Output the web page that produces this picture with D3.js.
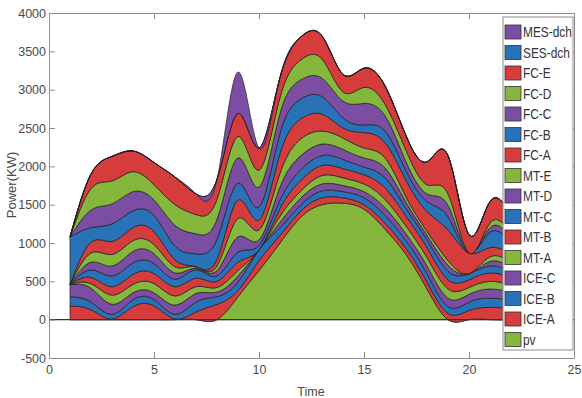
<!DOCTYPE html>
<html>
<head>
<meta charset="utf-8">
<script src="https://cdn.jsdelivr.net/npm/d3@7"></script>
<style>
  body { margin: 0; background: #fff; }
  svg { font-family: "Liberation Sans", Arial, sans-serif; }
</style>
</head>
<body>
<div id="graph"></div>
<script>
const width = 582,
  height = 398;

// hourly values (stack order: bottom -> top)
const hours  = [1, 2, 3, 4, 5, 6, 7, 8, 9, 10, 11, 12, 13, 14, 15, 16, 17, 18, 19, 20, 21, 22];
const pv     = [0, 0, 0, 0, 0, 0, 0, 0, 300, 640, 1000, 1340, 1500, 1520, 1440, 1180, 850, 400, 0, 0, 0, 0];
const iceA   = [180, 130, 10, 170, 180, 10, 100, 200, 80, 130, 100, 80, 90, 70, 60, 80, 80, 90, 80, 120, 160, 150];
const iceB   = [120, 100, 60, 90, 80, 60, 130, 100, 110, 140, 100, 80, 90, 80, 90, 100, 100, 110, 90, 110, 120, 110];
const iceC   = [160, 180, 130, 90, 90, 120, 110, 60, 80, 0, 70, 90, 90, 80, 80, 100, 90, 100, 110, 100, 120, 100];
const mtA    = [0, 60, 120, 110, 120, 120, 90, 60, 70, 0, 80, 90, 110, 100, 100, 110, 100, 110, 120, 90, 100, 90];
const mtB    = [0, 80, 110, 130, 130, 120, 110, 80, 110, 0, 100, 140, 130, 120, 120, 150, 130, 130, 120, 100, 110, 100];
const mtC    = [0, 100, 140, 150, 130, 100, 110, 70, 130, 60, 110, 140, 130, 120, 100, 130, 100, 100, 110, 80, 90, 80];
const mtD    = [0, 100, 130, 150, 130, 80, 20, 70, 200, 70, 170, 180, 150, 130, 120, 130, 80, 60, 80, 0, 60, 60];
const mtE    = [0, 120, 150, 140, 120, 80, 20, 60, 240, 130, 180, 220, 170, 150, 130, 130, 70, 50, 60, 0, 60, 60];
const fcA    = [0, 140, 170, 170, 170, 90, 0, 90, 240, 130, 260, 260, 220, 130, 200, 200, 220, 260, 400, 270, 120, 110];
const fcB    = [620, 190, 230, 220, 210, 180, 170, 260, 220, 170, 260, 260, 230, 130, 100, 150, 120, 130, 170, 0, 200, 150];
const fcC    = [0, 230, 260, 250, 200, 270, 260, 260, 330, 260, 260, 250, 240, 220, 280, 200, 120, 100, 150, 0, 60, 60];
const fcD    = [0, 280, 300, 260, 200, 270, 250, 260, 280, 220, 210, 260, 250, 120, 210, 150, 150, 120, 150, 0, 60, 60];
const fcE    = [0, 190, 320, 270, 290, 360, 270, 260, 300, 290, 260, 300, 300, 230, 250, 240, 190, 300, 500, 240, 280, 230];
const sesDch = [0, 0, 0, 0, 0, 0, 0, 0, 0, 0, 0, 0, 0, 0, 0, 0, 0, 0, 0, 0, 0, 0];
const mesDch = [0, 0, 0, 0, 0, 0, 0, 0, 540, 0, 0, 0, 0, 0, 0, 0, 0, 0, 0, 0, 0, 0];

const names = ["pv", "ICE-A", "ICE-B", "ICE-C", "MT-A", "MT-B", "MT-C", "MT-D", "MT-E",
  "FC-A", "FC-B", "FC-C", "FC-D", "FC-E", "SES-dch", "MES-dch"];
const values = [pv, iceA, iceB, iceC, mtA, mtB, mtC, mtD, mtE, fcA, fcB, fcC, fcD, fcE, sesDch, mesDch];

const xTicks = [0, 5, 10, 15, 20, 25];
const yTicks = [-500, 0, 500, 1000, 1500, 2000, 2500, 3000, 3500, 4000];

const green = "#86b73d", red = "#d53c3b", blue = "#2a72b8", purple = "#7b4ea3";
const palette = [green, red, blue, purple];
const color = (i) => palette[i % 4];

// table for d3.stack
const table = hours.map((t, i) => {
  const row = { t: t };
  names.forEach((n, k) => row[n] = values[k][i]);
  return row;
});

const svg = d3.select("#graph").append("svg")
  .attr("width", width)
  .attr("height", height);

const x = d3.scaleLinear().domain([0, 25]).range([49, 574]);
const y = d3.scaleLinear().domain([-500, 4000]).range([358, 13]);

const series = d3.stack().keys(names)(table);

const area = d3.area()
  .curve(d3.curveNatural)
  .x(d => x(d.data.t))
  .y0(d => y(d[0]))
  .y1(d => y(d[1]));

svg.append("defs").append("clipPath").attr("id", "clip")
  .append("rect").attr("x", 49).attr("y", 13).attr("width", 525).attr("height", 345);

svg.append("g")
  .attr("clip-path", "url(#clip)")
  .selectAll("path")
  .data(series)
  .join("path")
  .attr("d", area)
  .attr("fill", (d, i) => color(i))
  .attr("stroke", "#1c1c1c")
  .attr("stroke-width", 0.7)
  .attr("stroke-linejoin", "round");

// baseline at zero
svg.append("line")
  .attr("x1", x(0)).attr("x2", x(25))
  .attr("y1", y(0)).attr("y2", y(0))
  .attr("stroke", "#333")
  .attr("stroke-width", 1.2);

// axes, ticks inside like the original box
const axisCol = "#8c8c8c", textCol = "#4a4a4a";
const plain = d => String(d);

function styleAxis(g) {
  g.select(".domain").attr("stroke", axisCol);
  g.selectAll(".tick line").attr("stroke", axisCol);
  g.selectAll(".tick text").attr("fill", textCol).attr("font-size", 12.5)
    .attr("font-family", "Liberation Sans, Arial, sans-serif");
}

svg.append("g")
  .attr("transform", `translate(0,${y(-500)})`)
  .call(d3.axisBottom(x).tickValues(xTicks).tickFormat(plain)
    .tickSizeInner(-6).tickSizeOuter(0).tickPadding(7))
  .call(styleAxis);

svg.append("g")
  .attr("transform", `translate(0,${y(4000)})`)
  .call(d3.axisTop(x).tickValues(xTicks).tickSizeInner(-6).tickSizeOuter(0).tickFormat(""))
  .call(styleAxis);

svg.append("g")
  .attr("transform", `translate(${x(0)},0)`)
  .call(d3.axisLeft(y).tickValues(yTicks).tickFormat(plain)
    .tickSizeInner(-6).tickSizeOuter(0).tickPadding(3))
  .call(styleAxis);

svg.append("g")
  .attr("transform", `translate(${x(25)},0)`)
  .call(d3.axisRight(y).tickValues(yTicks).tickSizeInner(-6).tickSizeOuter(0).tickFormat(""))
  .call(styleAxis);

svg.append("text")
  .attr("transform", "translate(16,185) rotate(-90)")
  .attr("text-anchor", "middle")
  .attr("font-size", 13)
  .attr("fill", textCol)
  .text("Power(KW)");

svg.append("text")
  .attr("x", 311).attr("y", 396)
  .attr("text-anchor", "middle")
  .attr("font-size", 12.5)
  .attr("fill", textCol)
  .text("Time");

// legend, top entry first
const legend = svg.append("g");
legend.append("rect")
  .attr("x", 503).attr("y", 17)
  .attr("width", 70).attr("height", 333)
  .attr("fill", "#fff")
  .attr("stroke", "#8c8c8c");

const entries = names.map((n, i) => ({ name: n, i: i })).reverse();

const item = legend.selectAll("g.item")
  .data(entries)
  .join("g")
  .attr("class", "item")
  .attr("transform", (d, k) => `translate(0,${32 + k * 20.5})`);

item.append("rect")
  .attr("x", 505).attr("y", -7)
  .attr("width", 16).attr("height", 14)
  .attr("fill", d => color(d.i))
  .attr("stroke", "#333")
  .attr("stroke-width", 0.8);

item.append("text")
  .attr("transform", "translate(523,5) scale(0.85,1)")
  .attr("font-size", 14)
  .attr("fill", "#333")
  .text(d => d.name);
</script>
</body>
</html>
